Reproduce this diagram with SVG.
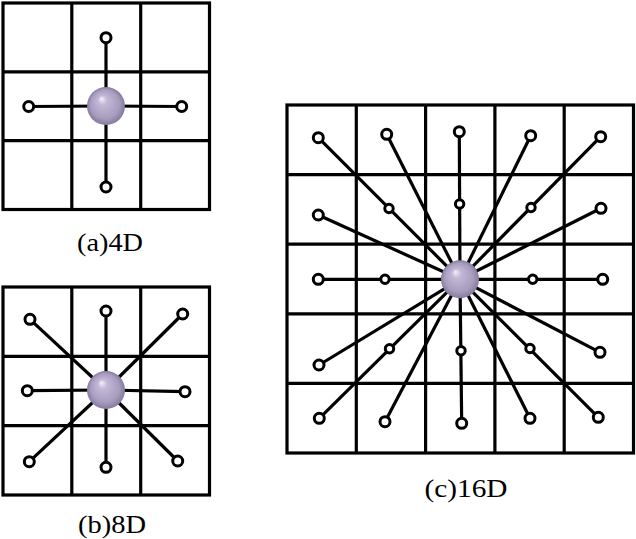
<svg xmlns="http://www.w3.org/2000/svg" width="636" height="539" viewBox="0 0 636 539">
<style>
.g{fill:none;stroke:#000;stroke-width:3.2}
.c line{stroke:#000;stroke-width:3.2}
.p{fill:#fff;stroke:#000;stroke-width:3}
.t{font-family:"Liberation Serif","DejaVu Serif",serif;font-size:25px;fill:#000}
</style>
<defs>
<radialGradient id="ball" cx="0.5" cy="0.5" r="0.5" fx="0.38" fy="0.3">
<stop offset="0" stop-color="#f4f0fa"/>
<stop offset="0.25" stop-color="#c2b8d6"/>
<stop offset="0.75" stop-color="#a89cbf"/>
<stop offset="1" stop-color="#85799c"/>
</radialGradient>
</defs>
<rect width="636" height="539" fill="#fff"/>

<g id="gridA" class="g">
<rect x="3" y="3" width="206.5" height="206.5"/>
<line x1="71.8" y1="3" x2="71.8" y2="209.5"/><line x1="140.7" y1="3" x2="140.7" y2="209.5"/>
<line x1="3" y1="71.8" x2="209.5" y2="71.8"/><line x1="3" y1="140.7" x2="209.5" y2="140.7"/>
</g>
<g id="gridB" class="g">
<rect x="3" y="287" width="206.5" height="208"/>
<line x1="71.8" y1="287" x2="71.8" y2="495"/><line x1="140.7" y1="287" x2="140.7" y2="495"/>
<line x1="3" y1="356.3" x2="209.5" y2="356.3"/><line x1="3" y1="425.7" x2="209.5" y2="425.7"/>
</g>
<g id="gridC" class="g">
<rect x="287" y="105" width="346.5" height="348"/>
<line x1="356.3" y1="105" x2="356.3" y2="453"/><line x1="425.6" y1="105" x2="425.6" y2="453"/>
<line x1="494.9" y1="105" x2="494.9" y2="453"/><line x1="564.2" y1="105" x2="564.2" y2="453"/>
<line x1="287" y1="174.6" x2="633.5" y2="174.6"/><line x1="287" y1="244.2" x2="633.5" y2="244.2"/>
<line x1="287" y1="313.8" x2="633.5" y2="313.8"/><line x1="287" y1="383.4" x2="633.5" y2="383.4"/>
</g>

<g id="connectors" class="c">
<line x1="106" y1="106" x2="106" y2="37.7"/><line x1="106" y1="106" x2="28.7" y2="106.5"/>
<line x1="106" y1="106" x2="181.7" y2="106.5"/><line x1="106" y1="106" x2="106" y2="187"/>

<line x1="106" y1="390" x2="106" y2="311"/><line x1="106" y1="390" x2="30" y2="319.3"/>
<line x1="106" y1="390" x2="182.7" y2="314"/><line x1="106" y1="390" x2="27.3" y2="390.7"/>
<line x1="106" y1="390" x2="185" y2="391.7"/><line x1="106" y1="390" x2="29.3" y2="461.7"/>
<line x1="106" y1="390" x2="106" y2="467.3"/><line x1="106" y1="390" x2="177.7" y2="461"/>

<line x1="460" y1="279.3" x2="318.3" y2="137.7"/><line x1="460" y1="279.3" x2="386.7" y2="134.3"/>
<line x1="460" y1="279.3" x2="459.3" y2="131.7"/><line x1="460" y1="279.3" x2="530.7" y2="135.7"/>
<line x1="460" y1="279.3" x2="600.7" y2="136.7"/><line x1="460" y1="279.3" x2="318.3" y2="215"/>
<line x1="460" y1="279.3" x2="601" y2="208.3"/><line x1="460" y1="279.3" x2="318.3" y2="279.3"/>
<line x1="460" y1="279.3" x2="602.7" y2="279.3"/><line x1="460" y1="279.3" x2="319" y2="365"/>
<line x1="460" y1="279.3" x2="600" y2="352.3"/><line x1="460" y1="279.3" x2="319.3" y2="418.3"/>
<line x1="460" y1="279.3" x2="385" y2="421.7"/><line x1="460" y1="279.3" x2="461.7" y2="423.3"/>
<line x1="460" y1="279.3" x2="530" y2="418.3"/><line x1="460" y1="279.3" x2="598.3" y2="417.3"/>
</g>

<g id="nodesA">
<g id="a-top"><circle class="p" cx="106" cy="37.7" r="5"/></g>
<g id="a-left"><circle class="p" cx="28.7" cy="106.5" r="5"/></g>
<g id="a-right"><circle class="p" cx="181.7" cy="106.5" r="5"/></g>
<g id="a-bottom"><circle class="p" cx="106" cy="187" r="5"/></g>
<g id="a-center"><circle cx="106" cy="106" r="19" fill="url(#ball)"/></g>
</g>
<g id="nodesB">
<g id="b-n"><circle class="p" cx="106" cy="311" r="5"/></g>
<g id="b-nw"><circle class="p" cx="30" cy="319.3" r="5"/></g>
<g id="b-ne"><circle class="p" cx="182.7" cy="314" r="5"/></g>
<g id="b-w"><circle class="p" cx="27.3" cy="390.7" r="5"/></g>
<g id="b-e"><circle class="p" cx="185" cy="391.7" r="5"/></g>
<g id="b-sw"><circle class="p" cx="29.3" cy="461.7" r="5"/></g>
<g id="b-s"><circle class="p" cx="106" cy="467.3" r="5"/></g>
<g id="b-se"><circle class="p" cx="177.7" cy="461" r="5"/></g>
<g id="b-center"><circle cx="106" cy="390" r="19" fill="url(#ball)"/></g>
</g>
<g id="nodesC">
<g id="c-o1"><circle class="p" cx="318.3" cy="137.7" r="5"/></g>
<g id="c-o2"><circle class="p" cx="386.7" cy="134.3" r="5"/></g>
<g id="c-o3"><circle class="p" cx="459.3" cy="131.7" r="5"/></g>
<g id="c-o4"><circle class="p" cx="530.7" cy="135.7" r="5"/></g>
<g id="c-o5"><circle class="p" cx="600.7" cy="136.7" r="5"/></g>
<g id="c-o6"><circle class="p" cx="318.3" cy="215" r="5"/></g>
<g id="c-o7"><circle class="p" cx="601" cy="208.3" r="5"/></g>
<g id="c-o8"><circle class="p" cx="318.3" cy="279.3" r="5"/></g>
<g id="c-o9"><circle class="p" cx="602.7" cy="279.3" r="5"/></g>
<g id="c-o10"><circle class="p" cx="319" cy="365" r="5"/></g>
<g id="c-o11"><circle class="p" cx="600" cy="352.3" r="5"/></g>
<g id="c-o12"><circle class="p" cx="319.3" cy="418.3" r="5"/></g>
<g id="c-o13"><circle class="p" cx="385" cy="421.7" r="5"/></g>
<g id="c-o14"><circle class="p" cx="461.7" cy="423.3" r="5"/></g>
<g id="c-o15"><circle class="p" cx="530" cy="418.3" r="5"/></g>
<g id="c-o16"><circle class="p" cx="598.3" cy="417.3" r="5"/></g>
<g id="c-i1"><circle class="p" cx="389" cy="208.5" r="4.2"/></g>
<g id="c-i2"><circle class="p" cx="459.6" cy="204" r="4.2"/></g>
<g id="c-i3"><circle class="p" cx="531" cy="207.5" r="4.2"/></g>
<g id="c-i4"><circle class="p" cx="385" cy="279.3" r="4.2"/></g>
<g id="c-i5"><circle class="p" cx="532.7" cy="279.3" r="4.2"/></g>
<g id="c-i6"><circle class="p" cx="389.5" cy="348.8" r="4.2"/></g>
<g id="c-i7"><circle class="p" cx="461" cy="350.7" r="4.2"/></g>
<g id="c-i8"><circle class="p" cx="530" cy="348.5" r="4.2"/></g>
<g id="c-center"><circle cx="460" cy="279.3" r="19" fill="url(#ball)"/></g>
</g>

<g id="labels">
<text class="t" x="110" y="251" text-anchor="middle" textLength="66" lengthAdjust="spacingAndGlyphs">(a)4D</text>
<text class="t" x="112" y="533" text-anchor="middle" textLength="68" lengthAdjust="spacingAndGlyphs">(b)8D</text>
<text class="t" x="466" y="497" text-anchor="middle" textLength="83" lengthAdjust="spacingAndGlyphs">(c)16D</text>
</g>
</svg>
